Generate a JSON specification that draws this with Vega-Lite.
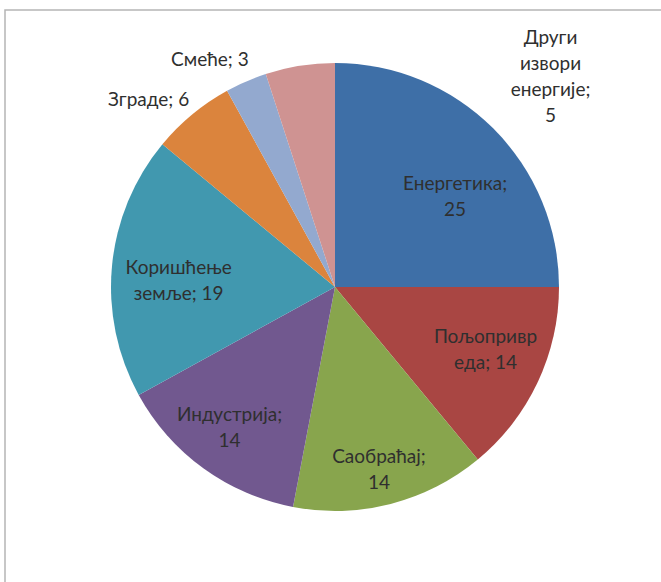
{
  "$schema": "https://vega.github.io/schema/vega-lite/v6.json",
  "width": 660,
  "height": 574,
  "autosize": {"type": "none"},
  "padding": {"left": 5, "top": 10, "right": 0, "bottom": 0},
  "background": "white",
  "view": {"stroke": "#b5b5b5", "strokeWidth": 1.5},
  "config": {
    "view": {"stroke": "#b5b5b5", "strokeWidth": 1.5},
    "text": {"font": "Lato", "fontSize": 19, "fill": "#2f2f2f", "lineBreak": "\n", "lineHeight": 26}
  },
  "data": {
    "values": [
      {"idx": 0, "name": "Енергетика", "value": 25, "label": "Енергетика;\n25"},
      {"idx": 1, "name": "Пољопривреда", "value": 14, "label": "Пољопривр\nеда; 14"},
      {"idx": 2, "name": "Саобраћај", "value": 14, "label": "Саобраћај;\n14"},
      {"idx": 3, "name": "Индустрија", "value": 14, "label": "Индустрија;\n14"},
      {"idx": 4, "name": "Коришћење земље", "value": 19, "label": "Коришћење\nземље; 19"},
      {"idx": 5, "name": "Зграде", "value": 6, "label": "Зграде; 6"},
      {"idx": 6, "name": "Смеће", "value": 3, "label": "Смеће; 3"},
      {"idx": 7, "name": "Други извори енергије", "value": 5, "label": "Други\nизвори\nенергије;\n5"}
    ]
  },
  "encoding": {
    "theta": {"field": "value", "type": "quantitative", "stack": true},
    "order": {"field": "idx", "type": "quantitative"},
    "detail": {"field": "name", "type": "nominal"}
  },
  "layer": [
    {
      "mark": {"type": "arc", "outerRadius": 224, "yOffset": -10},
      "encoding": {
        "color": {
          "field": "name",
          "type": "nominal",
          "legend": null,
          "scale": {
            "domain": ["Енергетика", "Пољопривреда", "Саобраћај", "Индустрија", "Коришћење земље", "Зграде", "Смеће", "Други извори енергије"],
            "range": ["#3e6fa7", "#a94643", "#88a54d", "#71588f", "#4198af", "#db843d", "#93a9cf", "#cf9392"]
          }
        }
      }
    },
    {
      "mark": {"type": "text", "radius": 150, "dx": 14, "dy": 3, "yOffset": -10},
      "encoding": {"text": {"condition": {"test": "datum.idx === 0", "field": "label", "type": "nominal"}, "value": ""}}
    },
    {
      "mark": {"type": "text", "radius": 163, "dx": 3, "dy": -19, "yOffset": -10},
      "encoding": {"text": {"condition": {"test": "datum.idx === 1", "field": "label", "type": "nominal"}, "value": ""}}
    },
    {
      "mark": {"type": "text", "radius": 189, "dx": -3, "dy": -13, "yOffset": -10},
      "encoding": {"text": {"condition": {"test": "datum.idx === 2", "field": "label", "type": "nominal"}, "value": ""}}
    },
    {
      "mark": {"type": "text", "radius": 176, "dx": -2, "dy": -14, "yOffset": -10},
      "encoding": {"text": {"condition": {"test": "datum.idx === 3", "field": "label", "type": "nominal"}, "value": ""}}
    },
    {
      "mark": {"type": "text", "radius": 157, "dx": 0, "dy": -4, "yOffset": -10},
      "encoding": {"text": {"condition": {"test": "datum.idx === 4", "field": "label", "type": "nominal"}, "value": ""}}
    },
    {
      "mark": {"type": "text", "radius": 250, "dx": -27, "dy": 6, "yOffset": -10},
      "encoding": {"text": {"condition": {"test": "datum.idx === 5", "field": "label", "type": "nominal"}, "value": ""}}
    },
    {
      "mark": {"type": "text", "radius": 247, "dx": -27, "dy": 0, "yOffset": -10},
      "encoding": {"text": {"condition": {"test": "datum.idx === 6", "field": "label", "type": "nominal"}, "value": ""}}
    },
    {
      "mark": {"type": "text", "radius": 214, "dx": 249, "dy": -38, "yOffset": -10},
      "encoding": {"text": {"condition": {"test": "datum.idx === 7", "field": "label", "type": "nominal"}, "value": ""}}
    }
  ]
}
